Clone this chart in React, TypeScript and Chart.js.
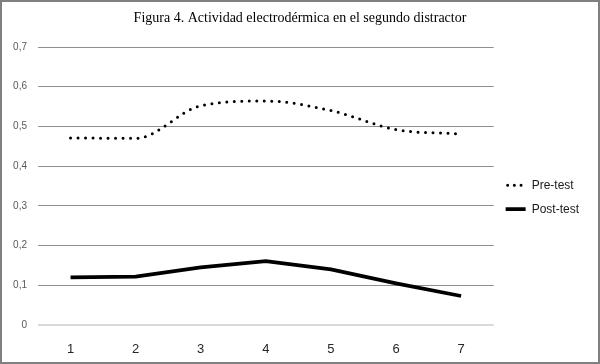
import React, { useEffect, useRef } from "react";
import { Chart, registerables } from "chart.js";

Chart.register(...registerables);

const categories = ["1", "2", "3", "4", "5", "6", "7"];
const preTest = [0.471, 0.47, 0.552, 0.564, 0.54, 0.492, 0.481];
const postTest = [0.12, 0.122, 0.145, 0.161, 0.14, 0.105, 0.073];
const yTickLabels = ["0", "0,1", "0,2", "0,3", "0,4", "0,5", "0,6", "0,7"];
const seriesNames = ["Pre-test", "Post-test"];
const titleText = "Figura 4. Actividad electrodérmica en el segundo distractor";

const centerTitlePlugin = {
  id: "centerTitle",
  afterLayout(chart: any) {
    const t = chart.titleBlock;
    if (t) {
      t.left = 0;
      t.right = chart.width;
    }
  },
};

export default function App() {
  const ref = useRef<HTMLCanvasElement | null>(null);
  useEffect(() => {
    if (!ref.current) return;
    const chart = new Chart(ref.current, {
      type: "line",
      data: {
        labels: categories,
        datasets: [
          {
            label: seriesNames[0],
            data: preTest,
            borderColor: "#000000",
            backgroundColor: "#000000",
            borderWidth: 3,
            borderDash: [0, 7.5],
            borderCapStyle: "round",
            pointRadius: 0,
            cubicInterpolationMode: "monotone",
            fill: false,
          },
          {
            label: seriesNames[1],
            data: postTest,
            borderColor: "#000000",
            backgroundColor: "#000000",
            borderWidth: 3.8,
            borderCapStyle: "butt",
            pointRadius: 0,
            tension: 0,
            fill: false,
          },
        ],
      },
      options: {
        responsive: false,
        animation: false,
        layout: { padding: { left: 0, right: 9, top: 0, bottom: 0 } },
        plugins: {
          legend: {
            display: true,
            position: "right",
            align: "center",
            fullSize: false,
            title: {
              display: true,
              text: " ",
              font: { size: 12 },
              padding: { top: 4, bottom: 4 },
            },
            labels: {
              usePointStyle: true,
              pointStyleWidth: 20,
              boxHeight: 12,
              padding: 12,
              color: "#1a1a1a",
              font: { family: "'Liberation Sans', Arial, sans-serif", size: 12 },
              generateLabels: (c: any) =>
                c.data.datasets.map((ds: any, i: number) => ({
                  text: ds.label,
                  datasetIndex: i,
                  pointStyle: "line",
                  fillStyle: ds.borderColor,
                  strokeStyle: ds.borderColor,
                  lineWidth: ds.borderWidth,
                  lineCap: ds.borderCapStyle,
                  lineDash: ds.borderDash ? [0, 6.7, 0, 6.7, 0, 30] : [],
                  lineDashOffset: ds.borderDash ? -2 : 0,
                  fontColor: "#1a1a1a",
                  hidden: false,
                })),
            },
          },
          tooltip: { enabled: false },
          title: {
            display: true,
            text: titleText,
            color: "#000000",
            font: { family: "'Liberation Serif', 'Times New Roman', serif", size: 14, weight: "normal" },
            padding: { top: 8, bottom: 20.2 },
          },
        },
        scales: {
          x: {
            offset: true,
            grid: { display: false },
            border: { display: false },
            ticks: {
              color: "#262626",
              font: { family: "'Liberation Sans', Arial, sans-serif", size: 13 },
              padding: 9,
              maxRotation: 0,
            },
            afterFit: (s: any) => {
              s.height = 37;
            },
          },
          y: {
            min: 0,
            max: 0.7,
            border: { display: false },
            grid: {
              drawTicks: false,
              color: (c: any) => (c.index === 0 ? "#d9d9d9" : "#8f8f8f"),
              lineWidth: (c: any) => (c.index === 0 ? 2 : 1),
            },
            ticks: {
              stepSize: 0.1,
              padding: 11,
              color: "#595959",
              font: { family: "'Liberation Sans', Arial, sans-serif", size: 10 },
              callback: (_v: any, i: number) => yTickLabels[i],
            },
            afterFit: (s: any) => {
              s.width = 36;
            },
          },
        },
      },
      plugins: [centerTitlePlugin],
    } as any);
    return () => chart.destroy();
  }, []);
  return (
    <div
      style={{
        position: "absolute",
        left: 0,
        top: 0,
        width: 600,
        height: 364,
        boxSizing: "border-box",
        border: "2px solid #808080",
        background: "#ffffff",
      }}
    >
      <canvas ref={ref} width={596} height={360} style={{ display: "block" }} />
    </div>
  );
}
